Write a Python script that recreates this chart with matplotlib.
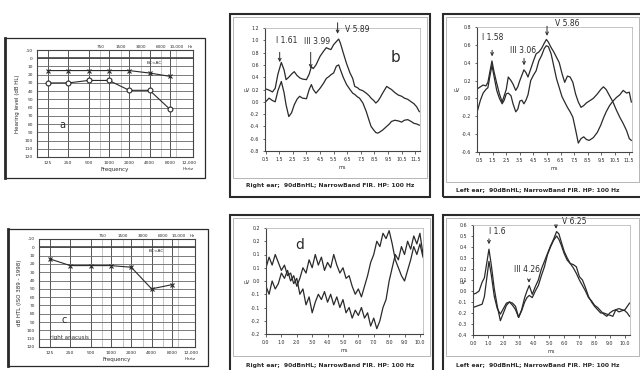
import matplotlib
matplotlib.use('Agg')
from matplotlib import pyplot as plt
from matplotlib.patches import Rectangle

# ---- audiogram data (dB HL) ----
freqs = [125, 250, 500, 1000, 2000, 4000, 8000]
a_cross = [15, 15, 15, 15, 15, 18, 22]
a_circle = [30, 30, 27, 27, 39, 39, 62]
c_cross = [14, 22, 22, 22, 24, 50, 45]
aud_yticks = list(range(-10, 130, 10))
aud_xticks = [125, 250, 500, 1000, 2000, 4000, 8000, 12000]
aud_xlabels = ['125', '250', '500', '1000', '2000', '4000', '8000', '12,000']
aud_top = [750, 1500, 3000, 6000, 10000]
aud_top_labels = ['750', '1500', '3000', '6000', '10,000']

# ---- panel b: right ear, 90 dBnHL ----
b_t = [0.5, 0.75, 1.0, 1.2, 1.4, 1.65, 1.85, 2.0, 2.2, 2.4, 2.6, 2.8, 3.0, 3.2, 3.5, 3.7,
       3.86, 4.0, 4.2, 4.5, 4.75, 4.96, 5.15, 5.3, 5.5, 5.7, 5.87, 6.0, 6.2, 6.45, 6.7, 6.9,
       7.05, 7.25, 7.4, 7.65, 7.9, 8.1, 8.25, 8.45, 8.6, 8.75, 8.9, 9.1, 9.4, 9.6, 9.75, 10.0,
       10.25, 10.5, 10.7, 10.95, 11.2, 11.4, 11.6, 11.8]
b_up = [0.21, 0.19, 0.16, 0.22, 0.45, 0.64, 0.52, 0.36, 0.40, 0.45, 0.49, 0.43, 0.39, 0.37, 0.36, 0.45,
        0.57, 0.54, 0.60, 0.74, 0.82, 0.88, 0.86, 0.85, 0.93, 0.98, 1.02, 0.95, 0.80, 0.62, 0.47, 0.38,
        0.25, 0.23, 0.20, 0.18, 0.14, 0.10, 0.06, 0.02, -0.02, 0.01, 0.06, 0.14, 0.25, 0.22, 0.20, 0.15,
        0.11, 0.09, 0.06, 0.04, 0.00, -0.03, -0.08, -0.16]
b_low = [0.00, 0.06, 0.02, 0.00, 0.18, 0.33, 0.15, -0.05, -0.24, -0.18, -0.05, 0.04, 0.09, 0.06, 0.05, 0.20,
         0.28, 0.20, 0.14, 0.22, 0.30, 0.38, 0.41, 0.44, 0.47, 0.58, 0.60, 0.52, 0.40, 0.28, 0.20, 0.14,
         0.12, 0.08, 0.06, -0.02, -0.16, -0.30, -0.40, -0.46, -0.50, -0.51, -0.49, -0.46, -0.40, -0.36, -0.32, -0.30,
         -0.31, -0.33, -0.30, -0.29, -0.32, -0.35, -0.36, -0.38]

# ---- top right: left ear, 90 dBnHL ----
tr_t = [0.4, 0.6, 0.8, 1.0, 1.15, 1.3, 1.45, 1.6, 1.8, 2.0, 2.2, 2.35, 2.5, 2.65, 2.85, 3.0,
        3.2, 3.35, 3.5, 3.65, 3.8, 3.95, 4.1, 4.3, 4.5, 4.7, 4.9, 5.1, 5.3, 5.45, 5.6, 5.8,
        6.0, 6.2, 6.4, 6.6, 6.8, 7.0, 7.2, 7.4, 7.6, 7.8, 8.0, 8.2, 8.4, 8.6, 8.9, 9.2,
        9.45, 9.65, 9.85, 10.1, 10.35, 10.6, 10.85, 11.1, 11.35, 11.55, 11.7]
tr_a = [0.11, 0.13, 0.15, 0.14, 0.18, 0.30, 0.42, 0.30, 0.17, 0.05, -0.04, 0.03, 0.10, 0.24, 0.20, 0.16,
        0.09, 0.13, 0.20, 0.26, 0.32, 0.29, 0.24, 0.33, 0.42, 0.50, 0.52, 0.56, 0.62, 0.66, 0.63, 0.57,
        0.52, 0.46, 0.40, 0.28, 0.18, 0.25, 0.24, 0.18, 0.05, -0.04, -0.10, -0.08, -0.05, -0.03, 0.00, 0.05,
        0.10, 0.13, 0.10, 0.03, -0.04, -0.13, -0.21, -0.28, -0.36, -0.45, -0.47]
tr_b = [-0.13, -0.02, 0.06, 0.10, 0.12, 0.25, 0.37, 0.25, 0.09, 0.00, -0.06, -0.02, 0.05, 0.06, 0.03, -0.06,
        -0.15, -0.12, -0.03, -0.02, -0.06, -0.02, 0.04, 0.20, 0.26, 0.31, 0.42, 0.48, 0.56, 0.59, 0.58, 0.50,
        0.36, 0.22, 0.12, 0.02, -0.04, -0.10, -0.15, -0.21, -0.35, -0.50, -0.45, -0.43, -0.46, -0.47, -0.44, -0.38,
        -0.30, -0.22, -0.15, -0.08, -0.03, 0.01, 0.04, 0.09, 0.06, 0.07, -0.04]

# ---- panel d: right ear (no response) ----
d_t = [0.0, 0.2, 0.4, 0.6, 0.8, 1.0, 1.2, 1.4, 1.6, 1.8, 2.0, 2.2, 2.4, 2.6, 2.8, 3.0,
       3.2, 3.4, 3.6, 3.8, 4.0, 4.2, 4.4, 4.6, 4.8, 5.0, 5.2, 5.4, 5.6, 5.8, 6.0, 6.2,
       6.4, 6.6, 6.8, 7.0, 7.2, 7.4, 7.6, 7.8, 8.0, 8.2, 8.4, 8.6, 8.8, 9.0, 9.2, 9.4,
       9.6, 9.8, 10.0, 10.2]
d_1 = [-0.02, -0.05, 0.00, -0.03, -0.01, 0.03, 0.01, 0.04, 0.00, 0.02, -0.02, 0.01, 0.05, 0.03, 0.08, 0.05,
       0.10, 0.06, 0.09, 0.04, 0.07, 0.05, 0.10, 0.06, 0.03, 0.05, 0.01, 0.02, -0.02, -0.05, -0.03, -0.06,
       -0.02, 0.02, 0.07, 0.10, 0.15, 0.13, 0.18, 0.16, 0.19, 0.14, 0.08, 0.05, 0.02, 0.00, 0.04, 0.08,
       0.13, 0.10, 0.14, 0.09]
d_2 = [0.05, 0.09, 0.06, 0.10, 0.07, 0.04, 0.06, 0.02, 0.03, -0.01, 0.01, -0.05, -0.03, -0.09, -0.06, -0.12,
       -0.08, -0.05, -0.07, -0.04, -0.08, -0.05, -0.09, -0.06, -0.10, -0.07, -0.12, -0.10, -0.14, -0.11, -0.13, -0.10,
       -0.14, -0.12, -0.17, -0.14, -0.18, -0.15, -0.10, -0.07, 0.00, 0.05, 0.10, 0.08, 0.13, 0.10, 0.15, 0.12,
       0.17, 0.14, 0.18, 0.10]

# ---- bottom right: left ear ----
br_t = [0.0, 0.2, 0.4, 0.6, 0.75, 0.9, 1.05, 1.2, 1.4, 1.6, 1.8, 2.0, 2.2, 2.4, 2.6, 2.8,
        3.0, 3.2, 3.4, 3.55, 3.7, 3.9, 4.1, 4.3, 4.5, 4.7, 4.9, 5.1, 5.3, 5.5, 5.65, 5.8,
        6.0, 6.2, 6.4, 6.6, 6.8, 7.0, 7.2, 7.4, 7.6, 7.8, 8.0, 8.2, 8.4, 8.6, 8.8, 9.0,
        9.2, 9.4, 9.6, 9.8, 10.0, 10.15, 10.3]
br_1 = [-0.03, -0.02, 0.00, 0.08, 0.12, 0.25, 0.38, 0.24, 0.02, -0.14, -0.27, -0.20, -0.13, -0.10, -0.11, -0.14,
        -0.24, -0.17, -0.06, 0.00, 0.05, -0.03, 0.04, 0.10, 0.20, 0.27, 0.34, 0.41, 0.47, 0.54, 0.52, 0.45,
        0.36, 0.30, 0.25, 0.21, 0.16, 0.10, 0.05, 0.00, -0.06, -0.09, -0.13, -0.15, -0.18, -0.21, -0.23, -0.20,
        -0.18, -0.17, -0.19, -0.18, -0.17, -0.14, -0.11]
br_2 = [-0.15, -0.14, -0.13, -0.12, -0.05, 0.11, 0.27, 0.15, -0.05, -0.16, -0.21, -0.16, -0.11, -0.10, -0.13, -0.17,
        -0.24, -0.18, -0.10, -0.06, -0.04, -0.06, 0.00, 0.05, 0.14, 0.22, 0.33, 0.40, 0.46, 0.50, 0.47, 0.42,
        0.34, 0.28, 0.25, 0.24, 0.22, 0.13, 0.10, 0.03, -0.05, -0.10, -0.14, -0.17, -0.20, -0.20, -0.21, -0.22,
        -0.23, -0.17, -0.16, -0.17, -0.18, -0.20, -0.23]

W, H = 640, 370
fig = plt.figure(figsize=(6.4, 3.7), dpi=100)
ink = '#2a2a2a'


def px_axes(x0, y0, x1, y1):
    return fig.add_axes([x0 / W, 1 - y1 / H, (x1 - x0) / W, (y1 - y0) / H])


def px_box(x0, y0, x1, y1, lw=1.0, color=ink):
    fig.add_artist(Rectangle((x0 / W, 1 - y1 / H), (x1 - x0) / W, (y1 - y0) / H,
                             transform=fig.transFigure, fill=False, lw=lw, edgecolor=color))


def px_text(x, y, s, **kw):
    fig.text(x / W, 1 - y / H, s, **kw)


def audiogram(ax, ylabel):
    ax.set_xscale('log', base=2)
    ax.set_xlim(2 ** 6.43, 2 ** 14.1)
    ax.set_ylim(120, -10)
    for f in freqs:
        ax.axvline(f, color='#555', lw=0.7)
    for f in aud_top:
        ax.axvline(f, color='#bbb', lw=0.6)
    for v in aud_yticks:
        ax.axhline(v, color='#666', lw=0.6)
    ax.axhline(0, color='#444', lw=1.2)
    ax.set_yticks(aud_yticks)
    ax.set_yticklabels([str(v) for v in aud_yticks])
    ax.set_xticks(aud_xticks)
    ax.set_xticklabels(aud_xlabels)
    ax.minorticks_off()
    ax.tick_params(labelsize=3.2, length=0, pad=3, colors=ink)
    # the 12,000 label sits just right of its line on the printed form
    ax.get_xticklabels()[-1].set_horizontalalignment('left')
    for s in ax.spines.values():
        s.set_color('#444')
        s.set_linewidth(0.8)
    ax.set_ylabel(ylabel, fontsize=4, color=ink, labelpad=3)
    ax.set_xlabel('Frequency', fontsize=4, color=ink, labelpad=1.5)
    for f, lab in zip(aud_top, aud_top_labels):
        ax.text(f, -11.5, lab, fontsize=3, ha='center', va='bottom', color=ink)
    ax.text(16000, -11.5, 'Hz', fontsize=3, ha='center', va='bottom', color=ink)
    ax.text(15000, 135, 'Hertz', fontsize=3, ha='center', va='center', color=ink)


def ep_axes(ax, xlim, ylim, xticks, xlabels, yticks, ylabels):
    ax.set_xlim(*xlim)
    ax.set_ylim(*ylim)
    ax.set_xticks(xticks)
    ax.set_xticklabels(xlabels)
    ax.set_yticks(yticks)
    ax.set_yticklabels(ylabels)
    ax.tick_params(labelsize=3.4, length=1.8, width=0.5, pad=2.5, colors=ink)
    for side in ['left', 'bottom']:
        ax.spines[side].set_color('#444')
        ax.spines[side].set_linewidth(0.8)
    for side in ['top', 'right']:
        ax.spines[side].set_color('#bbb')
        ax.spines[side].set_linewidth(0.6)


def arrow(ax, x, y0, y1):
    ax.annotate('', xy=(x, y1), xytext=(x, y0), annotation_clip=False,
                arrowprops=dict(arrowstyle='->', color=ink, lw=0.7, mutation_scale=5))


# ---------- panel a ----------
px_box(5, 38, 205, 178, lw=0.9)
fig.add_artist(plt.Line2D([5 / W, 5 / W], [1 - 38 / H, 1 - 178 / H], transform=fig.transFigure, color=ink, lw=2))
ax_a = px_axes(37, 50, 193, 157)
audiogram(ax_a, 'Hearing level (dB HL)')
ax_a.plot(freqs, a_cross, color=ink, lw=0.8, marker='x', ms=3.5, mew=0.8)
ax_a.plot(freqs, a_circle, color=ink, lw=0.8, marker='o', ms=3.5, mfc='white', mew=0.8)
ax_a.text(202, 81, 'a', fontsize=7, color=ink, ha='center', va='center')
ax_a.text(3600, 6, 'BC<AC', fontsize=3.2, color=ink, ha='left', va='center')

# ---------- panel c ----------
px_box(8, 229, 208, 366, lw=0.9)
fig.add_artist(plt.Line2D([8 / W, 8 / W], [1 - 229 / H, 1 - 366 / H], transform=fig.transFigure, color=ink, lw=2))
ax_c = px_axes(39, 239, 195, 347)
audiogram(ax_c, 'dB HTL (ISO 389 - 1998)')
ax_c.plot(freqs, c_cross, color=ink, lw=0.8, marker='x', ms=3.5, mew=0.8)
ax_c.text(200, 88, 'c', fontsize=7, color=ink, ha='center', va='center')
ax_c.text(125, 108, 'right anacusis', fontsize=4, color=ink, ha='left', va='center')
ax_c.text(3600, 4, 'BC<AC', fontsize=3.2, color=ink, ha='left', va='center')

# ---------- panel b ----------
px_box(230, 14, 430, 197, lw=1.5)
px_box(233, 17, 427, 178, lw=0.5, color='#999')
ax_b = px_axes(265, 28, 420, 151)
ep_axes(ax_b, (0.45, 11.85), (-0.8, 1.2),
        [0.5 + i for i in range(12)], ['%.1f' % (0.5 + i) for i in range(12)],
        [-0.8 + 0.2 * i for i in range(11)], ['%.1f' % (-0.8 + 0.2 * i) for i in range(11)])
ax_b.plot(b_t, b_up, color=ink, lw=0.9)
ax_b.plot(b_t, b_low, color=ink, lw=0.9)
arrow(ax_b, 1.53, 0.85, 0.60)
arrow(ax_b, 3.81, 0.85, 0.50)
arrow(ax_b, 5.79, 1.33, 1.06)
ax_b.text(2.04, 0.99, 'I 1.61', fontsize=5.5, ha='center', va='center', color=ink)
ax_b.text(4.25, 0.98, 'III 3.99', fontsize=5.5, ha='center', va='center', color=ink)
ax_b.text(6.3, 1.17, 'V 5.89', fontsize=5.5, ha='left', va='center', color=ink)
ax_b.text(10.06, 0.72, 'b', fontsize=11, ha='center', va='center', color=ink)
ax_b.set_xlabel('ms', fontsize=3.6, color=ink, labelpad=2)
px_text(247, 90, 'uV', fontsize=3.4, color=ink, ha='center', va='center')
px_text(330, 186, 'Right ear;  90dBnHL; NarrowBand FIR. HP: 100 Hz', fontsize=4.3,
        fontweight='bold', color=ink, ha='center', va='center')

# ---------- top right ----------
px_box(443, 14, 642, 197, lw=1.5)
px_box(446, 17, 639, 182, lw=0.5, color='#999')
ax_tr = px_axes(477, 27, 632, 152)
ep_axes(ax_tr, (0.35, 11.75), (-0.6, 0.8),
        [0.5 + i for i in range(12)], ['%.1f' % (0.5 + i) for i in range(12)],
        [-0.6 + 0.2 * i for i in range(8)], ['%.1f' % (-0.6 + 0.2 * i) for i in range(8)])
ax_tr.plot(tr_t, tr_a, color=ink, lw=0.9)
ax_tr.plot(tr_t, tr_b, color=ink, lw=0.9)
arrow(ax_tr, 1.46, 0.57, 0.44)
arrow(ax_tr, 3.81, 0.48, 0.34)
arrow(ax_tr, 5.5, 0.84, 0.67)
ax_tr.text(1.53, 0.68, 'I 1.58', fontsize=5.5, ha='center', va='center', color=ink)
ax_tr.text(3.74, 0.54, 'III 3.06', fontsize=5.5, ha='center', va='center', color=ink)
ax_tr.text(6.09, 0.84, 'V 5.86', fontsize=5.5, ha='left', va='center', color=ink)
ax_tr.set_xlabel('ms', fontsize=3.6, color=ink, labelpad=2)
px_text(457, 90, 'uV', fontsize=3.4, color=ink, ha='center', va='center')
px_text(538, 190, 'Left ear;  90dBnHL; NarrowBand FIR. HP: 100 Hz', fontsize=4.3,
        fontweight='bold', color=ink, ha='center', va='center')

# ---------- panel d ----------
px_box(230, 215, 433, 375, lw=1.5)
px_box(233, 218, 430, 356, lw=0.5, color='#999')
ax_d = px_axes(266, 228, 423, 334)
d_yt = [-0.2 + 0.05 * i for i in range(9)]
d_yl = ['-0.2', '-0.2', '-0.1', '-0.1', '0.0', '0.1', '0.1', '0.2', '0.2']
ep_axes(ax_d, (0, 10.2), (-0.2, 0.2),
        [float(i) for i in range(11)], ['%.1f' % i for i in range(11)], d_yt, d_yl)
ax_d.plot(d_t, d_1, color=ink, lw=0.9)
ax_d.plot(d_t, d_2, color=ink, lw=0.9)
ax_d.text(2.2, 0.136, 'd', fontsize=10, ha='center', va='center', color=ink)
ax_d.set_xlabel('ms', fontsize=3.6, color=ink, labelpad=2)
px_text(247, 282, 'uV', fontsize=3.4, color=ink, ha='center', va='center')
px_text(330, 366, 'Right ear;  90dBnHL; NarrowBand FIR. HP: 100 Hz', fontsize=4.3,
        fontweight='bold', color=ink, ha='center', va='center')

# ---------- bottom right ----------
px_box(443, 215, 642, 375, lw=1.5)
px_box(446, 218, 639, 356, lw=0.5, color='#999')
ax_br = px_axes(473, 225, 630, 335)
ep_axes(ax_br, (0, 10.33), (-0.4, 0.6),
        [float(i) for i in range(11)], ['%.1f' % i for i in range(11)],
        [-0.4 + 0.1 * i for i in range(11)], ['%.1f' % (-0.4 + 0.1 * i) for i in range(11)])
ax_br.plot(br_t, br_1, color=ink, lw=0.9)
ax_br.plot(br_t, br_2, color=ink, lw=0.9)
arrow(ax_br, 1.05, 0.50, 0.40)
arrow(ax_br, 3.68, 0.13, 0.05)
arrow(ax_br, 5.46, 0.63, 0.54)
ax_br.text(1.6, 0.545, 'I 1.6', fontsize=5.5, ha='center', va='center', color=ink)
ax_br.text(3.55, 0.2, 'III 4.26', fontsize=5.5, ha='center', va='center', color=ink)
ax_br.text(5.86, 0.63, 'V 6.25', fontsize=5.5, ha='left', va='center', color=ink)
ax_br.set_xlabel('ms', fontsize=3.6, color=ink, labelpad=2)
px_text(463, 282, 'uV', fontsize=3.4, color=ink, ha='center', va='center')
px_text(538, 365, 'Left ear;  90dBnHL; NarrowBand FIR. HP: 100 Hz', fontsize=4.3,
        fontweight='bold', color=ink, ha='center', va='center')

fig.savefig('out.png', dpi=100)
